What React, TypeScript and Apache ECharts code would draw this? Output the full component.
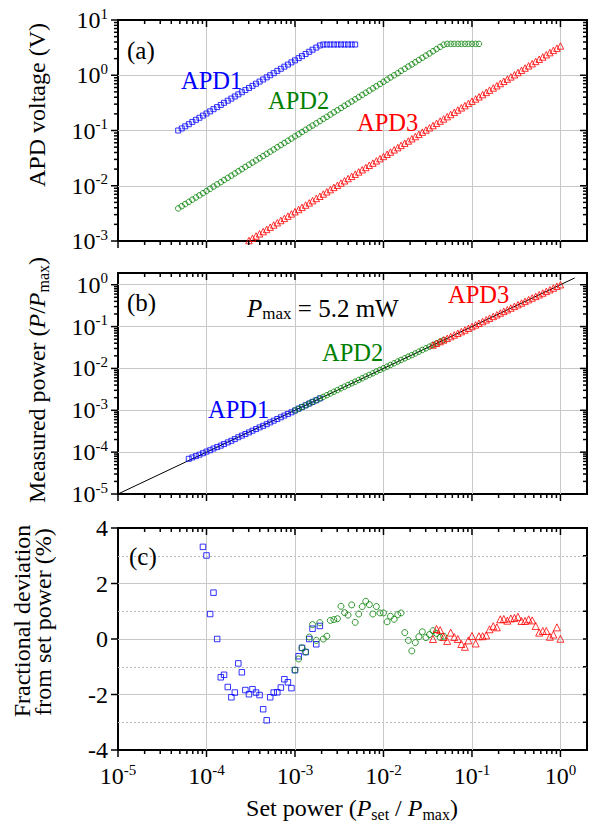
import React, { useEffect, useRef } from 'react';
import * as echarts from 'echarts';

// ---------------- data ----------------
// set power (P_set / P_max), logarithmically stepped as in the experiment
const SET_POWER = [
  4.79e-5, 5.25e-5, 5.75e-5, 6.31e-5, 6.92e-5, 7.59e-5, 8.32e-5, 9.12e-5,
  1.0e-4, 1.1e-4, 1.2e-4, 1.32e-4, 1.45e-4, 1.58e-4, 1.74e-4, 1.91e-4, 2.09e-4, 2.29e-4, 2.51e-4, 2.75e-4, 3.02e-4, 3.31e-4, 3.63e-4, 3.98e-4, 4.37e-4, 4.79e-4, 5.25e-4, 5.75e-4, 6.31e-4, 6.92e-4, 7.59e-4, 8.32e-4, 9.12e-4,
  1.0e-3, 1.1e-3, 1.2e-3, 1.32e-3, 1.45e-3, 1.58e-3, 1.74e-3, 1.91e-3, 2.09e-3, 2.29e-3, 2.51e-3, 2.75e-3, 3.02e-3, 3.31e-3, 3.63e-3, 3.98e-3, 4.37e-3, 4.79e-3, 5.25e-3, 5.75e-3, 6.31e-3, 6.92e-3, 7.59e-3, 8.32e-3, 9.12e-3,
  1.0e-2, 1.1e-2, 1.2e-2, 1.32e-2, 1.45e-2, 1.58e-2, 1.74e-2, 1.91e-2, 2.09e-2, 2.29e-2, 2.51e-2, 2.75e-2, 3.02e-2, 3.31e-2, 3.63e-2, 3.98e-2, 4.37e-2, 4.79e-2, 5.25e-2, 5.75e-2, 6.31e-2, 6.92e-2, 7.59e-2, 8.32e-2, 9.12e-2,
  0.1, 0.11, 0.12, 0.132, 0.145, 0.158, 0.174, 0.191, 0.209, 0.229, 0.251, 0.275, 0.302, 0.331, 0.363, 0.398, 0.437, 0.479, 0.525, 0.575, 0.631, 0.692, 0.759, 0.832, 0.912,
  1.0,
];

// (a) APD voltage (V); each series starts at the given index of SET_POWER
const APD1_VOLT_START = 0;
const APD1_VOLTAGE = [
  0.1, 0.109, 0.119, 0.13, 0.143, 0.156, 0.17, 0.186, 0.203, 0.222, 0.243, 0.265, 0.29, 0.317, 0.346, 0.378, 0.413, 0.451, 0.493, 0.539,
  0.589, 0.643, 0.703, 0.768, 0.839, 0.917, 1.0, 1.09, 1.2, 1.31, 1.43, 1.56, 1.71, 1.86, 2.04, 2.22, 2.43, 2.66, 2.9, 3.17, 3.46,
  3.6, 3.6, 3.6, 3.6, 3.6, 3.6, 3.6, 3.6, 3.6, 3.6,
];
const APD2_VOLT_START = 0;
const APD2_VOLTAGE = [
  3.89e-3, 4.26e-3, 4.67e-3, 5.11e-3, 5.6e-3, 6.13e-3, 6.71e-3, 7.35e-3, 8.05e-3, 8.82e-3, 9.66e-3,
  1.06e-2, 1.16e-2, 1.27e-2, 1.39e-2, 1.52e-2, 1.67e-2, 1.83e-2, 2.0e-2, 2.19e-2, 2.4e-2, 2.63e-2, 2.88e-2, 3.15e-2, 3.45e-2, 3.78e-2, 4.14e-2, 4.53e-2, 4.97e-2, 5.44e-2, 5.96e-2, 6.52e-2, 7.14e-2, 7.83e-2, 8.57e-2, 9.39e-2,
  0.103, 0.113, 0.123, 0.135, 0.148, 0.162, 0.177, 0.194, 0.213, 0.233, 0.255, 0.28, 0.306, 0.335, 0.367, 0.402, 0.441, 0.483, 0.528, 0.579, 0.634, 0.694, 0.76, 0.833, 0.912, 0.999,
  1.09, 1.2, 1.31, 1.44, 1.57, 1.72, 1.89, 2.07, 2.27, 2.48, 2.72, 2.98, 3.26, 3.57,
  3.7, 3.7, 3.7, 3.7, 3.7, 3.7, 3.7, 3.7, 3.7, 3.7,
];
const APD3_VOLT_START = 20;
const APD3_VOLTAGE = [
  1.02e-3, 1.12e-3, 1.23e-3, 1.35e-3, 1.48e-3, 1.62e-3, 1.78e-3, 1.95e-3, 2.14e-3, 2.35e-3, 2.57e-3, 2.82e-3, 3.09e-3,
  3.39e-3, 3.72e-3, 4.07e-3, 4.47e-3, 4.9e-3, 5.37e-3, 5.89e-3, 6.46e-3, 7.08e-3, 7.77e-3, 8.52e-3, 9.34e-3, 1.02e-2, 1.12e-2, 1.23e-2, 1.35e-2, 1.48e-2, 1.62e-2, 1.78e-2, 1.95e-2, 2.14e-2, 2.35e-2, 2.57e-2, 2.82e-2, 3.09e-2,
  3.39e-2, 3.72e-2, 4.07e-2, 4.47e-2, 4.9e-2, 5.37e-2, 5.89e-2, 6.46e-2, 7.08e-2, 7.77e-2, 8.52e-2, 9.34e-2, 0.102, 0.112, 0.123, 0.135, 0.148, 0.162, 0.178, 0.195, 0.214, 0.235, 0.257, 0.282, 0.309,
  0.339, 0.372, 0.407, 0.447, 0.49, 0.537, 0.589, 0.646, 0.708, 0.777, 0.852, 0.934, 1.02, 1.12, 1.23, 1.35, 1.48, 1.62, 1.78, 1.95, 2.14, 2.35, 2.57, 2.82, 3.09,
  3.39,
];

// (c) fractional deviation of measured from set power (%), starting at the given SET_POWER index
const APD1_DEV_START = 3;
const APD1_DEVIATION = [
  10, 8, 6, 4.5, 3.32, 3.01, 0.9, 1.67, 0.0, -1.38, -1.29, -1.73, -2.1, -1.93, -0.88, -1.2, -1.84, -1.99, -1.81,
  -1.93, -2.02, -2.53, -2.93, -2.1, -1.93, -1.92, -1.75, -1.45, -1.56, -1.77, -1.12, -0.62, -0.32, -0.47, 0.0, 0.37, -0.19, 0.47,
];
const APD2_DEV_START = 33;
const APD2_DEVIATION = [
  -1.12, -0.72, -0.32, -0.47, 0.07, 0.52, -0.05, 0.59, 0.0, 0.1, 0.67, 0.7, 0.73, 1.18, 0.95, 0.86, 1.23, 0.6, 0.9, 1.17,
  1.36, 1.24, 0.9, 1.17, 0.94, 0.94, 0.62, 0.82, 0.71, 0.88, 0.94, 0.23, -0.05, -0.43, -0.13, 0.08, 0.26, 0.05, 0.16, 0.3,
  0.2, 0.06, 0.1,
];
const APD3_DEV_START = 72;
const APD3_DEVIATION = [
  0.0, 0.36, 0.32, 0.07, -0.07, 0.23, 0.07, 0.0, -0.18, -0.28, -0.05, 0.11, -0.16, 0.1, 0.1, 0.13, 0.35, 0.46, 0.42, 0.71,
  0.72, 0.66, 0.74, 0.76, 0.8, 0.65, 0.65, 0.71, 0.67, 0.47, 0.23, 0.29, 0.29, 0.08, 0.16, 0.42, 0.01,
];

// (b) ideal response line P = P_set (end points)
const IDEAL_LINE = [1e-5, 1.45];

// axis ranges (in decades for log panels) and tick values
const X_RANGE = [-5, 0.3];
const Y_RANGE_A = [-3, 1];
const Y_RANGE_B = [-5, 0.28];
const Y_RANGE_C = [-4, 4];
const X_DECADES = [-5, -4, -3, -2, -1, 0];
const Y_DECADES_A = [-3, -2, -1, 0, 1];
const Y_DECADES_B = [-5, -4, -3, -2, -1, 0];
const DEV_LABELS = [-4, -2, 0, 2, 4];
const DEV_STEPS = [-4, -3, -2, -1, 0, 1, 2, 3, 4];
const DEV_MINOR = [-3, -1, 1, 3];

// ---------------- styling ----------------
const FONT = 'Liberation Serif';
const BLUE = '#0000ff';
const GREEN = '#008000';
const RED = '#ff0000';
const GRID_GRAY = '#c8c8c8';
const MAJOR_LEN = 7;
const MINOR_LEN = 4;

const lg = Math.log10;

function logMinor(lo: number, hi: number) {
  const out: number[] = [];
  for (let n = Math.floor(lo); n < Math.ceil(hi); n++) {
    for (let k = 2; k <= 9; k++) {
      const v = n + lg(k);
      if (v > lo && v < hi) out.push(v);
    }
  }
  return out;
}

const LABEL_RICH = {
  b: { fontFamily: FONT, fontSize: 24, color: '#000', lineHeight: 28 },
  s: { fontFamily: FONT, fontSize: 15, color: '#000', lineHeight: 10, verticalAlign: 'top' },
  n: { fontFamily: FONT, fontSize: 24, color: '#000', lineHeight: 28 },
};

const isInt = (v: number) => Math.abs(v - Math.round(v)) < 1e-6;
const powLabel = (v: number) => (isInt(v) ? `{b|10}{s|${Math.round(v) === 0 ? 0 : Math.round(v)}}` : '');

const noLine = { show: false, onZero: false };

function xAxisFor(grid: number, withLabels: boolean) {
  return {
    type: 'value', gridIndex: grid, min: X_RANGE[0], max: X_RANGE[1], interval: 1, position: 'bottom',
    axisLine: noLine, axisTick: { show: false },
    splitLine: { show: true, showMinLine: false, showMaxLine: false, lineStyle: { color: GRID_GRAY, width: 1 } },
    axisLabel: withLabels
      ? { show: true, margin: 12, formatter: powLabel, rich: LABEL_RICH }
      : { show: false },
  };
}

function yLogAxisFor(grid: number, range: number[]) {
  return {
    type: 'value', gridIndex: grid, min: range[0], max: range[1], interval: 1, position: 'left',
    axisLine: noLine, axisTick: { show: false },
    splitLine: { show: true, showMinLine: false, showMaxLine: false, lineStyle: { color: GRID_GRAY, width: 1 } },
    axisLabel: { show: true, margin: 10, formatter: powLabel, rich: LABEL_RICH },
  };
}

function yDevAxes(grid: number) {
  const base = { type: 'value', gridIndex: grid, min: Y_RANGE_C[0], max: Y_RANGE_C[1], position: 'left' };
  return [
    {
      ...base, interval: 2, axisLine: noLine, axisTick: { show: false },
      splitLine: { show: true, showMinLine: false, showMaxLine: false, lineStyle: { color: GRID_GRAY, width: 1 } },
      axisLabel: { show: true, margin: 10, formatter: (v: number) => `{n|${v}}`, rich: LABEL_RICH },
    },
    {
      ...base, axisLine: noLine,
      axisTick: { show: false, customValues: DEV_MINOR },
      splitLine: { show: true, lineStyle: { color: '#b8b8b8', width: 1, type: [2, 2] } },
      axisLabel: { show: false },
    },
  ];
}

// tick marks drawn through the axes' own scales: item = [x, y, kind(0 major / 1 minor), side]
// side: 0 bottom (outward), 1 top (inward), 2 left (outward), 3 right (inward)
function tickItems(xr: number[], yr: number[], xMajor: number[], xMinor: number[], yLeftMajor: number[], yLeftMinor: number[], yRightMajor: number[], yRightMinor: number[]) {
  const items: number[][] = [];
  xMajor.forEach((v) => { items.push([v, yr[0], 0, 0]); items.push([v, yr[1], 0, 1]); });
  xMinor.forEach((v) => { items.push([v, yr[0], 1, 0]); items.push([v, yr[1], 1, 1]); });
  yLeftMajor.forEach((v) => items.push([xr[0], v, 0, 2]));
  yLeftMinor.forEach((v) => items.push([xr[0], v, 1, 2]));
  yRightMajor.forEach((v) => items.push([xr[1], v, 0, 3]));
  yRightMinor.forEach((v) => items.push([xr[1], v, 1, 3]));
  return items;
}

function tickSeries(xi: number, yi: number, items: number[][], rightLen?: number) {
  return {
    type: 'custom', xAxisIndex: xi, yAxisIndex: yi, silent: true, clip: false, z: 6,
    renderItem: (_p: any, api: any) => {
      const p = api.coord([api.value(0), api.value(1)]);
      const kind = api.value(2);
      const side = api.value(3);
      let len = kind === 0 ? MAJOR_LEN : MINOR_LEN;
      if (side === 3 && rightLen) len = rightLen;
      let shape;
      if (side === 0) shape = { x1: p[0], y1: p[1], x2: p[0], y2: p[1] + len };
      else if (side === 1) shape = { x1: p[0], y1: p[1], x2: p[0], y2: p[1] + len };
      else if (side === 2) shape = { x1: p[0] - len, y1: p[1], x2: p[0], y2: p[1] };
      else shape = { x1: p[0] - len, y1: p[1], x2: p[0], y2: p[1] };
      return { type: 'line', shape, style: { stroke: '#000', lineWidth: 1.5 } };
    },
    data: items,
  };
}

const markerStyle = (c: string) => ({ color: 'rgba(0,0,0,0)', borderColor: c, borderWidth: 1 });

function scatter(x: number, y: number, symbol: string, size: number, color: string, data: number[][]) {
  return {
    type: 'scatter', xAxisIndex: x, yAxisIndex: y, symbol, symbolSize: size, silent: true, clip: true,
    itemStyle: markerStyle(color), data,
  };
}

const voltagePts = (start: number, v: number[]) => v.map((y, i) => [lg(SET_POWER[start + i]), lg(y)]);
const measuredPts = (start: number, d: number[]) =>
  d.map((dev, i) => [lg(SET_POWER[start + i]), lg(SET_POWER[start + i] * (1 + dev / 100))]);
const devPts = (start: number, d: number[]) =>
  d.map((dev, i) => [lg(SET_POWER[start + i]), dev]).filter((p) => p[1] <= Y_RANGE_C[1]);

const G_RICH = {
  n: { fontFamily: FONT, fontSize: 24, lineHeight: 28, fill: '#000' },
  i: { fontFamily: FONT, fontSize: 24, fontStyle: 'italic', lineHeight: 28, fill: '#000' },
  sub: { fontFamily: FONT, fontSize: 16, lineHeight: 12, verticalAlign: 'bottom', fill: '#000' },
  big: { fontFamily: FONT, fontSize: 25, lineHeight: 28, fill: '#000' },
  ib: { fontFamily: FONT, fontSize: 25, fontStyle: 'italic', lineHeight: 28, fill: '#000' },
  subb: { fontFamily: FONT, fontSize: 17, lineHeight: 12, verticalAlign: 'bottom', fill: '#000' },
  blue: { fontFamily: FONT, fontSize: 24.5, lineHeight: 28, fill: BLUE },
  green: { fontFamily: FONT, fontSize: 24.5, lineHeight: 28, fill: GREEN },
  red: { fontFamily: FONT, fontSize: 24.5, lineHeight: 28, fill: RED },
};

function txt(x: number, y: number, text: string, align = 'left', rotation = 0) {
  return {
    type: 'text', x, y, rotation, silent: true, z: 100,
    style: { text, rich: G_RICH, align, verticalAlign: 'middle', fill: '#000' },
  };
}

const gridBox = (top: number, height: number) => ({
  left: 118, right: 13, top, height, show: true, borderColor: '#000', borderWidth: 2,
  backgroundColor: 'transparent', outerBoundsMode: 'none',
});

export default function App() {
  const ref = useRef<HTMLDivElement>(null);
  useEffect(() => {
    if (!ref.current) return;
    const chart = echarts.init(ref.current, null, { renderer: 'svg' });

    const xMinor = logMinor(X_RANGE[0], X_RANGE[1]);
    const yMinorA = logMinor(Y_RANGE_A[0], Y_RANGE_A[1]);
    const yMinorB = logMinor(Y_RANGE_B[0], Y_RANGE_B[1]);

    const option: any = {
      animation: false,
      backgroundColor: '#fff',
      textStyle: { fontFamily: FONT },
      grid: [gridBox(20, 221), gridBox(273, 221), gridBox(528, 222)],
      xAxis: [xAxisFor(0, false), xAxisFor(1, false), xAxisFor(2, true)],
      yAxis: [yLogAxisFor(0, Y_RANGE_A), yLogAxisFor(1, Y_RANGE_B), ...yDevAxes(2)],
      series: [
        scatter(0, 0, 'rect', 5, BLUE, voltagePts(APD1_VOLT_START, APD1_VOLTAGE)),
        scatter(0, 0, 'circle', 5.5, GREEN, voltagePts(APD2_VOLT_START, APD2_VOLTAGE)),
        scatter(0, 0, 'triangle', 6.5, RED, voltagePts(APD3_VOLT_START, APD3_VOLTAGE)),
        {
          type: 'line', xAxisIndex: 1, yAxisIndex: 1, silent: true, symbol: 'none', z: 1,
          lineStyle: { color: '#000', width: 1 },
          data: IDEAL_LINE.map((p) => [lg(p), lg(p)]),
        },
        scatter(1, 1, 'rect', 5, BLUE, measuredPts(APD1_DEV_START, APD1_DEVIATION)),
        scatter(1, 1, 'circle', 5.5, GREEN, measuredPts(APD2_DEV_START, APD2_DEVIATION)),
        scatter(1, 1, 'triangle', 6.5, RED, measuredPts(APD3_DEV_START, APD3_DEVIATION)),
        scatter(2, 2, 'rect', 5.5, BLUE, devPts(APD1_DEV_START, APD1_DEVIATION)),
        scatter(2, 2, 'circle', 6, GREEN, devPts(APD2_DEV_START, APD2_DEVIATION)),
        scatter(2, 2, 'triangle', 7, RED, devPts(APD3_DEV_START, APD3_DEVIATION)),
        tickSeries(0, 0, tickItems(X_RANGE, Y_RANGE_A, X_DECADES, xMinor, Y_DECADES_A, yMinorA, Y_DECADES_A, yMinorA)),
        tickSeries(1, 1, tickItems(X_RANGE, Y_RANGE_B, X_DECADES, xMinor, Y_DECADES_B, yMinorB, Y_DECADES_B, yMinorB)),
        tickSeries(2, 2, tickItems(X_RANGE, Y_RANGE_C, X_DECADES, xMinor, DEV_LABELS, [], DEV_STEPS, []), MINOR_LEN),
      ],
      graphic: [
        txt(37, 105, '{n|APD voltage (V)}', 'center', Math.PI / 2),
        txt(37, 380, '{n|Measured power (}{i|P}{n|/}{i|P}{sub|max}{n|)}', 'center', Math.PI / 2),
        txt(22, 621, '{n|Fractional deviation}', 'center', Math.PI / 2),
        txt(43, 622, '{n|from set power (%)}', 'center', Math.PI / 2),
        txt(352, 808, '{n|Set power (}{i|P}{sub|set}{n| / }{i|P}{sub|max}{n|)}', 'center'),
        txt(127, 50, '{big|(a)}'),
        txt(181, 80, '{blue|APD1}'),
        txt(268, 100, '{green|APD2}'),
        txt(357, 122, '{red|APD3}'),
        txt(127, 302, '{big|(b)}'),
        txt(247, 308, '{ib|P}{subb|max}{big| = 5.2 mW}'),
        txt(448, 294, '{red|APD3}'),
        txt(322, 352, '{green|APD2}'),
        txt(208, 409, '{blue|APD1}'),
        txt(129, 556, '{big|(c)}'),
      ],
    };
    chart.setOption(option);
    return () => chart.dispose();
  }, []);
  return (
    <div
      ref={ref}
      style={{ position: 'absolute', left: 0, top: 0, width: 600, height: 830, background: '#fff' }}
    />
  );
}
